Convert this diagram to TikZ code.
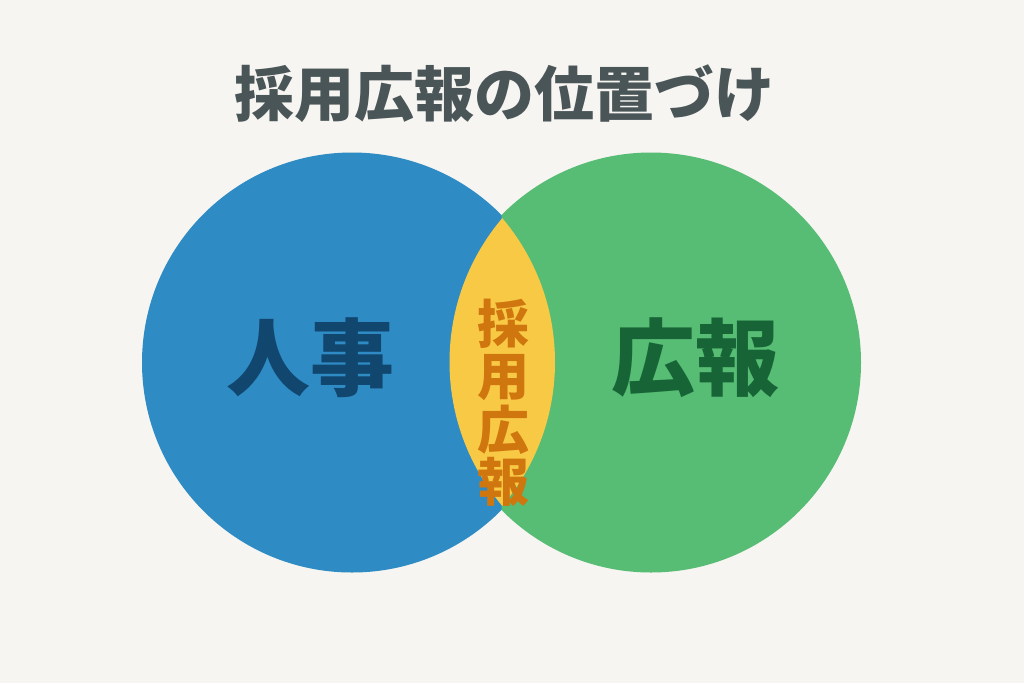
\documentclass[tikz,border=0pt]{standalone}
\usepackage{fontspec}
\newfontfamily\cjk{Noto Sans CJK JP}
\definecolor{bgc}{HTML}{F6F5F1}
\definecolor{bluec}{HTML}{2E8BC4}
\definecolor{greenc}{HTML}{57BC74}
\definecolor{yellowc}{HTML}{F8C945}
\definecolor{orangec}{HTML}{D0760F}
\definecolor{dbluec}{HTML}{11466F}
\definecolor{dgreenc}{HTML}{176536}
\definecolor{greyc}{HTML}{4A5558}
\begin{document}
\begin{tikzpicture}[x=1pt,y=-1pt,
  lbl/.style={inner sep=0pt,font=\cjk\bfseries},
  lensch/.style={lbl,text=orangec,font=\cjk\bfseries\fontsize{52}{52}\selectfont}]
\fill[bgc] (0,0) rectangle (1024,683);
\useasboundingbox (0,0) rectangle (1024,683);
% circles
\fill[greenc] (651,362.5) circle[radius=210];
\begin{scope}
  \clip (0,0) rectangle (501.5,683);
  \fill[bluec] (352,362.5) circle[radius=210];
\end{scope}
% lens
\begin{scope}
  \clip (332.4,362) circle[radius=222.6];
  \fill[yellowc] (672.1,362) circle[radius=222.6];
\end{scope}
% texts
\node[lbl,text=greyc,font=\cjk\bfseries\fontsize{60}{60}\selectfont] (title) at (504,94) {採用広報の位置づけ};
\node[lbl,text=dbluec,font=\cjk\bfseries\fontsize{84}{84}\selectfont] (jinji) at (310,358) {人事};
\node[lbl,text=dgreenc,font=\cjk\bfseries\fontsize{84}{84}\selectfont] (kouhou) at (695,358) {広報};
\node[lensch] (c1) at (503,324) {採};
\node[lensch] (c2) at (503,378) {用};
\node[lensch] (c3) at (503,430) {広};
\node[lensch] (c4) at (503,482) {報};
\end{tikzpicture}
\end{document}
